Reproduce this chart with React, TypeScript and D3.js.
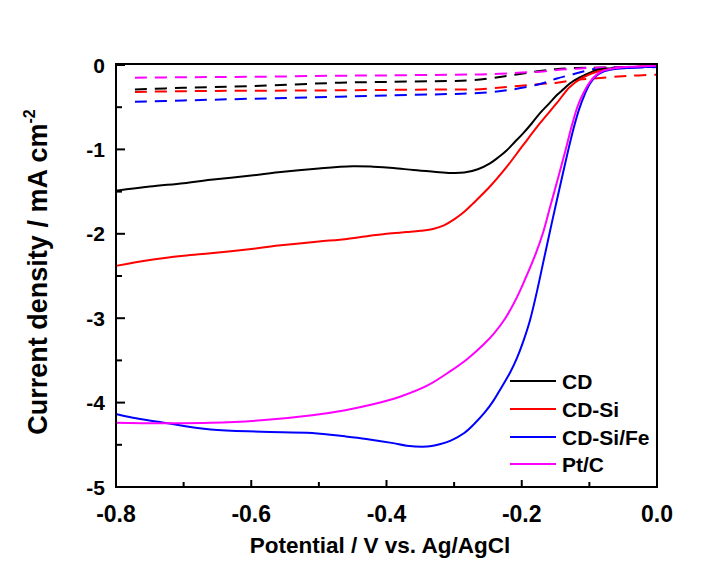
import React from "react";
import * as d3 from "d3";

// ---------- data (potential in V vs. Ag/AgCl, current density in mA cm^-2) ----------
const cdPotential = [-0.8, -0.75, -0.7, -0.66, -0.6, -0.56, -0.5, -0.45, -0.42, -0.39, -0.36, -0.33, -0.305, -0.285, -0.265, -0.247, -0.234, -0.222, -0.21, -0.198, -0.185, -0.173, -0.16, -0.148, -0.138, -0.129, -0.115, -0.1, -0.089, -0.07, -0.05, -0.025, 0];
const cdCurrent = [-1.49, -1.44, -1.4, -1.36, -1.31, -1.27, -1.225, -1.2, -1.205, -1.22, -1.245, -1.265, -1.28, -1.275, -1.235, -1.165, -1.09, -1.01, -0.91, -0.81, -0.69, -0.57, -0.46, -0.355, -0.285, -0.22, -0.15, -0.095, -0.06, -0.04, -0.03, -0.02, -0.015];

const cdSiPotential = [-0.8, -0.75, -0.7, -0.66, -0.6, -0.56, -0.5, -0.469, -0.44, -0.4, -0.37, -0.35, -0.33, -0.315, -0.3, -0.285, -0.272, -0.247, -0.222, -0.198, -0.173, -0.148, -0.129, -0.11, -0.089, -0.059, -0.03, 0];
const cdSiCurrent = [-2.38, -2.31, -2.26, -2.23, -2.18, -2.14, -2.09, -2.07, -2.04, -2.0, -1.98, -1.965, -1.94, -1.9, -1.83, -1.74, -1.64, -1.44, -1.205, -0.95, -0.69, -0.45, -0.26, -0.15, -0.08, -0.04, -0.02, -0.01];

const cdSiFePotential = [-0.8, -0.775, -0.735, -0.66, -0.585, -0.51, -0.461, -0.43, -0.39, -0.37, -0.34, -0.32, -0.305, -0.285, -0.27, -0.255, -0.242, -0.23, -0.217, -0.207, -0.198, -0.188, -0.178, -0.168, -0.158, -0.148, -0.139, -0.131, -0.123, -0.115, -0.107, -0.099, -0.09, -0.08, -0.065, -0.045, -0.02, 0];
const cdSiFeCurrent = [-4.135, -4.18, -4.23, -4.32, -4.345, -4.36, -4.4, -4.43, -4.48, -4.51, -4.52, -4.49, -4.45, -4.36, -4.25, -4.12, -3.98, -3.82, -3.64, -3.47, -3.28, -3.03, -2.7, -2.33, -1.96, -1.6, -1.28, -1.0, -0.74, -0.52, -0.35, -0.22, -0.13, -0.08, -0.05, -0.035, -0.025, -0.02];

const ptcPotential = [-0.8, -0.735, -0.66, -0.585, -0.51, -0.461, -0.42, -0.38, -0.34, -0.306, -0.28, -0.255, -0.24, -0.225, -0.207, -0.193, -0.18, -0.169, -0.158, -0.146, -0.135, -0.126, -0.117, -0.108, -0.1, -0.09, -0.08, -0.06, -0.04, -0.02, 0];
const ptcCurrent = [-4.24, -4.245, -4.24, -4.21, -4.15, -4.09, -4.02, -3.93, -3.8, -3.63, -3.48, -3.3, -3.17, -3.01, -2.75, -2.5, -2.25, -2.0, -1.68, -1.33, -1.0, -0.72, -0.48, -0.32, -0.21, -0.12, -0.07, -0.035, -0.02, -0.015, -0.01];

// dashed (background) curves
const cdBgPotential = [-0.772, -0.7, -0.6, -0.469, -0.4, -0.311, -0.272, -0.222, -0.173, -0.15, -0.12, -0.08, 0];
const cdBgCurrent = [-0.29, -0.27, -0.25, -0.21, -0.2, -0.19, -0.18, -0.13, -0.07, -0.05, -0.035, -0.03, -0.02];

const cdSiBgPotential = [-0.772, -0.7, -0.6, -0.469, -0.311, -0.272, -0.222, -0.173, -0.148, -0.124, -0.095, -0.044, 0];
const cdSiBgCurrent = [-0.32, -0.31, -0.305, -0.3, -0.29, -0.29, -0.26, -0.225, -0.21, -0.18, -0.16, -0.13, -0.115];

const cdSiFeBgPotential = [-0.772, -0.7, -0.6, -0.469, -0.4, -0.311, -0.272, -0.222, -0.173, -0.148, -0.124, -0.095, -0.07, 0];
const cdSiFeBgCurrent = [-0.435, -0.42, -0.4, -0.375, -0.36, -0.345, -0.335, -0.3, -0.225, -0.16, -0.11, -0.05, -0.035, -0.025];

const ptcBgPotential = [-0.772, -0.7, -0.6, -0.469, -0.4, -0.3, -0.25, -0.2, -0.173, -0.148, -0.12, -0.1, -0.05, 0];
const ptcBgCurrent = [-0.15, -0.145, -0.14, -0.127, -0.123, -0.115, -0.11, -0.09, -0.08, -0.06, -0.045, -0.035, -0.025, -0.02];

const seriesNames = ["CD", "CD-Si", "CD-Si/Fe", "Pt/C"];
const seriesColors = ["#000000", "#ff0000", "#0000ff", "#ff00ff"];

const xTicks = [-0.8, -0.6, -0.4, -0.2, 0.0];
const xMinorTicks = [-0.7, -0.5, -0.3, -0.1];
const yTicks = [0, -1, -2, -3, -4, -5];
const yMinorTicks = [-0.5, -1.5, -2.5, -3.5, -4.5];

const FONT = "'Liberation Sans', Arial, Helvetica, sans-serif";

function zip(xs: number[], ys: number[]): [number, number][] {
  return xs.map((x, i) => [x, ys[i]]);
}

function Label(props: {
  x: number; y: number; size: number; anchor?: string; children: React.ReactNode;
}) {
  const { x, y, size, anchor = "start", children } = props;
  return (
    <text x={x} y={y} fontFamily={FONT} fontWeight="bold" fontSize={size} textAnchor={anchor} fill="#000">
      {children}
    </text>
  );
}

export default function App() {
  const left = 116, right = 657, top = 65, bottom = 487;
  const x = d3.scaleLinear().domain([-0.8, 0]).range([left, right]);
  const y = d3.scaleLinear().domain([-5, 0]).range([bottom, top]);
  const line = d3
    .line<[number, number]>()
    .x((d) => x(d[0]))
    .y((d) => y(d[1]))
    .curve(d3.curveCatmullRom.alpha(0.5));

  const solid = [
    zip(cdPotential, cdCurrent),
    zip(cdSiPotential, cdSiCurrent),
    zip(cdSiFePotential, cdSiFeCurrent),
    zip(ptcPotential, ptcCurrent),
  ];
  const dashed = [
    zip(cdBgPotential, cdBgCurrent),
    zip(cdSiBgPotential, cdSiBgCurrent),
    zip(cdSiFeBgPotential, cdSiFeBgCurrent),
    zip(ptcBgPotential, ptcBgCurrent),
  ];

  const legendY = [381, 409, 437, 464];

  return (
    <svg width={715} height={567} style={{ position: "absolute", left: 0, top: 0, background: "#fff" }}>
      <rect x={0} y={0} width={715} height={567} fill="#fff" />
      {dashed.map((d, i) => (
        <path key={"d" + i} d={line(d) || ""} fill="none" stroke={seriesColors[i]} strokeWidth={2} strokeDasharray="12,8" />
      ))}
      {solid.map((d, i) => (
        <path key={"s" + i} d={line(d) || ""} fill="none" stroke={seriesColors[i]} strokeWidth={2} />
      ))}
      <rect x={left} y={top - 1} width={right - left} height={bottom - top + 1} fill="none" stroke="#000" strokeWidth={2} />
      {xTicks.map((t) => (
        <g key={"xt" + t}>
          <line x1={x(t)} x2={x(t)} y1={bottom} y2={bottom - 7} stroke="#000" strokeWidth={2} />
          <Label x={x(t)} y={522} size={23} anchor="middle">{t.toFixed(1)}</Label>
        </g>
      ))}
      {xMinorTicks.map((t) => (
        <line key={"xm" + t} x1={x(t)} x2={x(t)} y1={bottom} y2={bottom - 5} stroke="#000" strokeWidth={2} />
      ))}
      {yTicks.map((t) => (
        <g key={"yt" + t}>
          <line x1={left} x2={left + 9} y1={y(t)} y2={y(t)} stroke="#000" strokeWidth={2} />
          <Label x={105} y={y(t) + 7.5} size={21} anchor="end">{String(t)}</Label>
        </g>
      ))}
      {yMinorTicks.map((t) => (
        <line key={"ym" + t} x1={left} x2={left + 6} y1={y(t)} y2={y(t)} stroke="#000" strokeWidth={2} />
      ))}
      <Label x={380} y={553} size={22.5} anchor="middle">Potential / V vs. Ag/AgCl</Label>
      <text
        transform="translate(47,272) rotate(-90)"
        fontFamily={FONT}
        fontWeight="bold"
        fontSize={27}
        textAnchor="middle"
        fill="#000"
      >
        Current density / mA cm
        <tspan fontSize={16} dy={-12}>-2</tspan>
      </text>
      {seriesNames.map((n, i) => (
        <g key={"lg" + i}>
          <line x1={510} x2={556} y1={legendY[i]} y2={legendY[i]} stroke={seriesColors[i]} strokeWidth={2} />
          <Label x={562} y={legendY[i] + 7.5} size={21}>{n}</Label>
        </g>
      ))}
    </svg>
  );
}
